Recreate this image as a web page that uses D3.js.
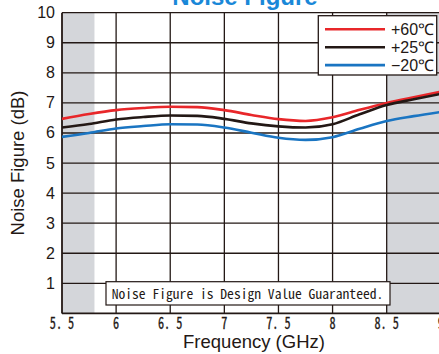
<!DOCTYPE html>
<html><head><meta charset="utf-8">
<script src="https://cdn.jsdelivr.net/npm/d3@7"></script>
<style>body{margin:0;background:#fff}svg{display:block}</style>
</head><body><svg id="c" width="439" height="354"></svg>
<script>
const freqs = [5.5,5.75,6.0,6.25,6.5,6.75,7.0,7.25,7.5,7.75,8.0,8.25,8.5,8.75,9.0];
const nf60 = [6.47,6.63,6.76,6.83,6.87,6.86,6.76,6.60,6.46,6.40,6.52,6.77,7.00,7.19,7.37];
const nf25 = [6.18,6.30,6.45,6.53,6.58,6.57,6.47,6.32,6.22,6.18,6.29,6.62,6.93,7.12,7.30];
const nfm20 = [5.87,6.00,6.15,6.23,6.29,6.28,6.18,6.01,5.84,5.77,5.86,6.14,6.40,6.56,6.70];
const seriesNames = ["+60℃","+25℃","\u221220℃"];
const xTicks = [5.5,6,6.5,7,7.5,8,8.5,9];
const xTickLabels = ["5. 5","6","6. 5","7","7. 5","8","8. 5","9"];
const yTicks = [1,2,3,4,5,6,7,8,9,10];
const bands = [[5.5,5.8],[8.5,9.0]];
const colors = ["#e8272a","#231815","#1a75c2"];

const svg = d3.select("#c");
const x = d3.scaleLinear().domain([5.5,9]).range([62,440.8]);
const y = d3.scaleLinear().domain([0,10]).range([313.4,12.7]);
const narrow = "'Liberation Sans Narrow','Arial Narrow',Arial,sans-serif";
const mono = "'Noto Sans Mono CJK JP','DejaVu Sans Mono',monospace";

// grey bands
svg.selectAll("rect.band").data(bands).join("rect")
  .attr("x", d=>x(d[0])).attr("y", y(10))
  .attr("width", d=>x(d[1])-x(d[0])).attr("height", y(0)-y(10))
  .attr("fill","#d4d6da");

// grid
const g = svg.append("g").attr("stroke","#231815").attr("stroke-width",1.3);
g.selectAll("line.h").data(yTicks).join("line")
  .attr("x1", x(5.5)).attr("x2", x(9)).attr("y1", d=>y(d)).attr("y2", d=>y(d));
g.selectAll("line.v").data(xTicks.slice(1)).join("line")
  .attr("x1", d=>x(d)).attr("x2", d=>x(d)).attr("y1", y(10)).attr("y2", y(0));
g.append("line").attr("x1",x(5.5)).attr("x2",x(5.5)).attr("y1",y(10)).attr("y2",y(0)).attr("stroke-width",1.8);
g.append("line").attr("x1",x(5.5)).attr("x2",x(9)).attr("y1",y(0)).attr("y2",y(0)).attr("stroke-width",1.8);

// curves
const line = d3.line().x((d,i)=>x(freqs[i])).y(d=>y(d)).curve(d3.curveMonotoneX);
const series = [nf60, nf25, nfm20];
svg.selectAll("path.s").data(series).join("path")
  .attr("d", line).attr("fill","none")
  .attr("stroke",(d,i)=>colors[i]).attr("stroke-width",2.6);

// y tick labels
svg.selectAll("text.yt").data(yTicks).join("text")
  .attr("x",55).attr("y",d=>y(d)+5.5).attr("text-anchor","end")
  .attr("font-family",narrow).attr("font-size",16).attr("fill","#231815")
  .text(d=>d);

// x tick labels (condensed monospace)
svg.selectAll("text.xt").data(xTicks).join("text")
  .attr("transform",d=>`translate(${x(d)},329) scale(0.72,1)`).attr("text-anchor","middle")
  .attr("font-family",mono).attr("font-size",17).attr("fill","#231815")
  .attr("stroke","#231815").attr("stroke-width",0.3)
  .text((d,i)=>xTickLabels[i]);

// axis titles
svg.append("text").attr("x",254).attr("y",348).attr("text-anchor","middle")
  .attr("font-family","Arial,'Liberation Sans',sans-serif").attr("font-size",18.5).attr("fill","#231815")
  .text("Frequency (GHz)");
svg.append("text").attr("transform","translate(24,163) rotate(-90)").attr("text-anchor","middle")
  .attr("font-family","Arial,'Liberation Sans',sans-serif").attr("font-size",18.5).attr("fill","#231815")
  .text("Noise Figure (dB)");

// title
svg.append("text").attr("x",245).attr("y",5).attr("text-anchor","middle")
  .attr("font-family","Arial,'Liberation Sans',sans-serif").attr("font-weight","bold").attr("font-size",24)
  .attr("fill","#1a88d8").text("Noise Figure");

// note box
svg.append("rect").attr("x",106).attr("y",281.7).attr("width",284).attr("height",23.3)
  .attr("fill","#fff").attr("stroke","#231815").attr("stroke-width",1.2);
svg.append("text").attr("x",111.7).attr("y",298.5)
  .attr("font-family",mono).attr("font-size",13.5).attr("fill","#231815")
  .attr("textLength",271.6).attr("lengthAdjust","spacingAndGlyphs")
  .text("Noise Figure is Design Value Guaranteed.");

// legend
svg.append("rect").attr("x",318.3).attr("y",15.7).attr("width",118.4).attr("height",59.3)
  .attr("fill","#fff").attr("stroke","#231815").attr("stroke-width",1.3);
const lg = svg.selectAll("g.lg").data(seriesNames).join("g")
  .attr("transform",(d,i)=>`translate(0,${29.3+i*17.9})`);
lg.append("line").attr("x1",325).attr("x2",385).attr("y1",0).attr("y2",0)
  .attr("stroke",(d,i)=>colors[i]).attr("stroke-width",2.6);
lg.append("text").attr("x",391).attr("y",5.5)
  .attr("font-family",narrow).attr("font-size",16).attr("fill","#231815")
  .text(d=>d);
</script></body></html>
